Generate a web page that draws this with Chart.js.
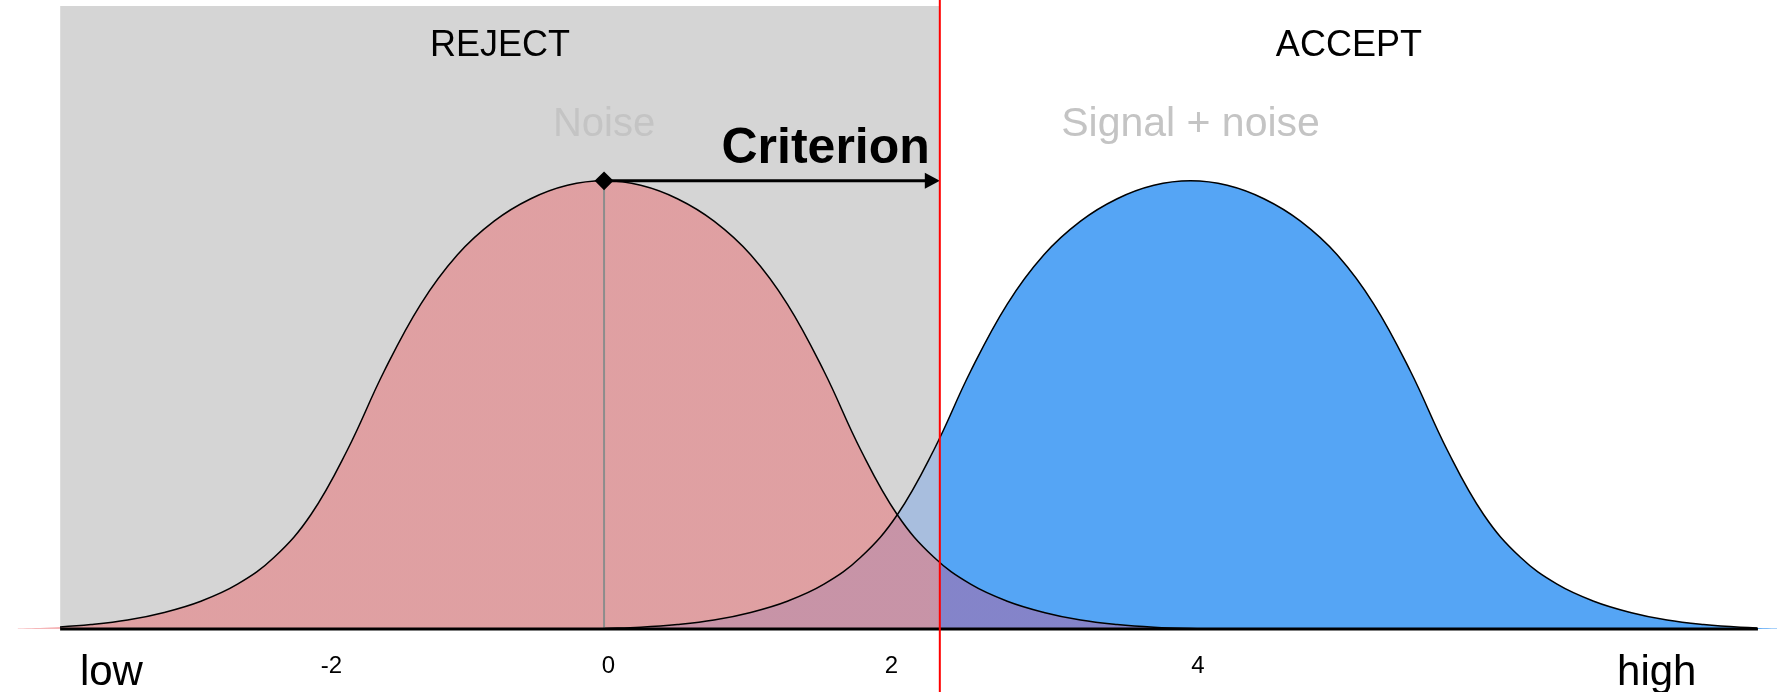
<!DOCTYPE html>
<html>
<head>
<meta charset="utf-8">
<script src="https://cdn.jsdelivr.net/npm/chart.js@4.4.0/dist/chart.umd.min.js"></script>
<style>
    html, body { margin: 0; padding: 0; background: #fff; }
    #wrap { width: 1777px; height: 692px; }
</style>
</head>
<body>
<div id="wrap"><canvas id="canvass"></canvas></div>
<script>
// noise distribution, heights (peak = 1)
var noiseX = [-4, -3.75, -3.5, -3.25, -3, -2.75, -2.5, -2.25, -2, -1.75, -1.5, -1.25, -1, -0.75, -0.5, -0.25,
              0, 0.25, 0.5, 0.75, 1, 1.25, 1.5, 1.75, 2, 2.25, 2.5, 2.75, 3, 3.25, 3.5, 3.75, 4, 4.25, 4.5, 4.75, 5];
var noiseY = [0.001, 0.004, 0.01, 0.02, 0.037, 0.062, 0.10, 0.16, 0.255, 0.40, 0.575, 0.725, 0.835, 0.91, 0.96, 0.99,
              1, 0.99, 0.96, 0.91, 0.835, 0.725, 0.575, 0.40, 0.255, 0.16, 0.10, 0.062, 0.037, 0.02, 0.01, 0.004, 0.001, 0, 0, 0, 0];

// signal + noise distribution
var signalX = [0, 0.25, 0.5, 0.75, 1, 1.25, 1.5, 1.75, 2, 2.25, 2.5, 2.75, 3, 3.25, 3.5, 3.75,
               4, 4.25, 4.5, 4.75, 5, 5.25, 5.5, 5.75, 6, 6.25, 6.5, 6.75, 7, 7.25, 7.5, 7.75, 8];
var signalY = [0.001, 0.004, 0.01, 0.02, 0.037, 0.062, 0.10, 0.16, 0.255, 0.40, 0.575, 0.725, 0.835, 0.91, 0.96, 0.99,
               1, 0.99, 0.96, 0.91, 0.835, 0.725, 0.575, 0.40, 0.255, 0.16, 0.10, 0.062, 0.037, 0.02, 0.01, 0.004, 0.001];

// decision criterion
var criterion = 2.29;

// labels under the axis
var tickValues = [-3.36, -1.86, 0.03, 1.96, 4.05, 7.18];
var tickLabels = ['low', '-2', '0', '2', '4', 'high'];

// view window
var xMin = -4.12, xMax = 8.0, yMax = 1.39;
var axisStart = -3.71, axisEnd = 7.87;

function toPoints(xs, ys) {
    return xs.map(function (x, i) { return { x: x, y: ys[i] }; });
}

// colour on the reject side, colour on the accept side
function splitFill(left, right) {
    return function (c) {
        var chart = c.chart;
        if (!chart.chartArea) return left;
        var t = chart.scales.x.getPixelForValue(criterion) / chart.width;
        var g = chart.ctx.createLinearGradient(0, 0, chart.width, 0);
        g.addColorStop(0, left);
        g.addColorStop(t, left);
        g.addColorStop(t, right);
        g.addColorStop(1, right);
        return g;
    };
}

var noise = toPoints(noiseX, noiseY);
var signal = toPoints(signalX, signalY);

var overlay = {
    id: 'overlay',
    afterDatasetsDraw: function (chart) {
        var ctx = chart.ctx;
        var sx = chart.scales.x, sy = chart.scales.y;
        var xc = sx.getPixelForValue(criterion);
        var x0 = sx.getPixelForValue(0);
        var yPeak = sy.getPixelForValue(1);
        var xl = sx.getPixelForValue(axisStart);
        var xr = sx.getPixelForValue(axisEnd);

        ctx.save();
        // criterion arrow
        ctx.strokeStyle = '#000';
        ctx.lineWidth = 3;
        ctx.beginPath();
        ctx.moveTo(x0, yPeak);
        ctx.lineTo(xc - 10, yPeak);
        ctx.stroke();
        ctx.fillStyle = '#000';
        ctx.beginPath();
        ctx.moveTo(xc, yPeak);
        ctx.lineTo(xc - 15, yPeak - 8);
        ctx.lineTo(xc - 15, yPeak + 8);
        ctx.closePath();
        ctx.fill();

        // red criterion line, full height
        ctx.strokeStyle = '#ff0000';
        ctx.lineWidth = 2;
        ctx.beginPath();
        ctx.moveTo(xc, 0);
        ctx.lineTo(xc, chart.height);
        ctx.stroke();

        // texts
        ctx.textAlign = 'center';
        ctx.textBaseline = 'middle';
        ctx.fillStyle = '#000';
        ctx.font = '36px "Liberation Sans", Arial, sans-serif';
        ctx.fillText('REJECT', (xl + xc) / 2, sy.getPixelForValue(1.30));
        ctx.fillText('ACCEPT', (xc + xr) / 2, sy.getPixelForValue(1.30));

        ctx.fillStyle = '#c4c4c4';
        ctx.font = '40px "Liberation Sans", Arial, sans-serif';
        ctx.fillText('Noise', x0, sy.getPixelForValue(1.125));
        ctx.font = '41px "Liberation Sans", Arial, sans-serif';
        ctx.fillText('Signal + noise', sx.getPixelForValue(4), sy.getPixelForValue(1.125));

        ctx.fillStyle = '#000';
        ctx.textAlign = 'right';
        ctx.textBaseline = 'alphabetic';
        ctx.font = 'bold 50px "Liberation Sans", Arial, sans-serif';
        ctx.fillText('Criterion', xc - 10, sy.getPixelForValue(1.04));
        ctx.restore();
    }
};

// outlines stop where the axis line stops
var outlineClip = { left: -60, top: 0, right: -20, bottom: 0 };

var ctx = document.getElementById('canvass').getContext('2d');
var myChart = new Chart(ctx, {
    type: 'line',
    data: {
        datasets: [
            {   // axis line
                data: [{ x: axisStart, y: 0 }, { x: axisEnd, y: 0 }],
                borderColor: '#000', borderWidth: 3, pointRadius: 0, clip: false, order: 0
            },
            {   // mean of noise: drop line and diamond
                data: [{ x: 0, y: 0 }, { x: 0, y: 1 }],
                borderColor: '#8c8c8c', borderWidth: 2,
                pointRadius: [0, 8], pointStyle: 'rectRot',
                pointBackgroundColor: '#000', pointBorderColor: '#000', order: 1
            },
            {   // signal outline
                data: signal, borderColor: '#000', borderWidth: 1.5, pointRadius: 0,
                tension: 0.4, clip: outlineClip, order: 2
            },
            {   // noise outline
                data: noise, borderColor: '#000', borderWidth: 1.5, pointRadius: 0,
                tension: 0.4, clip: outlineClip, order: 3
            },
            {   // noise area
                data: noise, fill: 'origin',
                backgroundColor: splitFill('rgba(235,100,105,0.47)', 'rgba(220,70,120,0.35)'),
                borderWidth: 0, pointRadius: 0, tension: 0.4, order: 4
            },
            {   // signal area
                data: signal, fill: 'origin',
                backgroundColor: splitFill('rgb(168,190,222)', 'rgb(85,165,245)'),
                borderWidth: 0, pointRadius: 0, tension: 0.4, order: 5
            },
            {   // reject region
                data: [{ x: axisStart, y: yMax }, { x: criterion, y: yMax }],
                fill: 'origin', backgroundColor: '#d5d5d5',
                borderWidth: 0, pointRadius: 0, order: 6
            }
        ]
    },
    options: {
        responsive: true,
        maintainAspectRatio: false,
        animation: false,
        events: [],
        layout: { autoPadding: false, padding: { top: 6, left: 0, right: 0, bottom: 0 } },
        plugins: { legend: { display: false }, tooltip: { enabled: false } },
        scales: {
            x: {
                type: 'linear', min: xMin, max: xMax,
                grid: { display: false },
                border: { display: false },
                afterBuildTicks: function (s) {
                    s.ticks = tickValues.map(function (v) { return { value: v }; });
                },
                afterFit: function (s) { s.height = 63; },
                ticks: {
                    padding: 15, color: '#000', autoSkip: false, maxRotation: 0,
                    callback: function (v, i) { return tickLabels[i]; },
                    font: function (c) {
                        var big = c.index === 0 || c.index === tickLabels.length - 1;
                        return big ? { family: 'Liberation Sans', size: 42, lineHeight: 1 }
                                   : { family: 'Liberation Sans', size: 24 };
                    }
                }
            },
            y: { display: false, min: 0, max: yMax }
        }
    },
    plugins: [overlay]
});
</script>
</body>
</html>
